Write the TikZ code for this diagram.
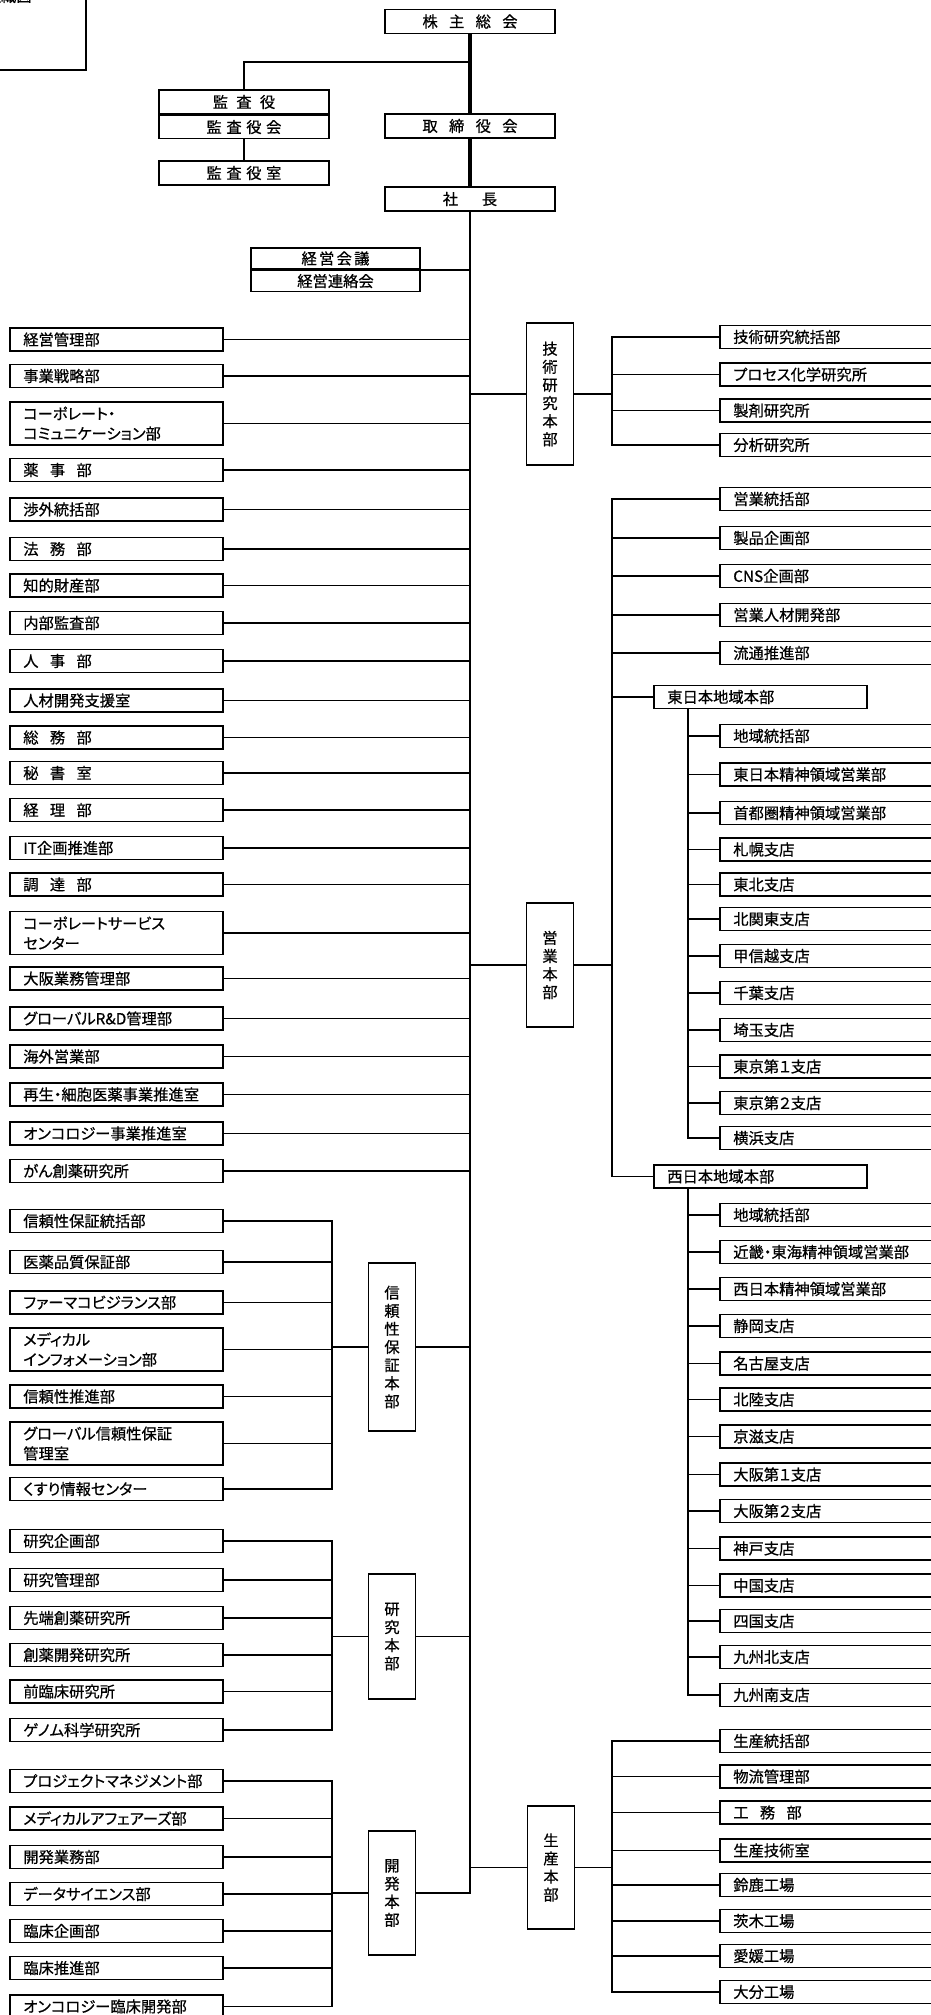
\documentclass[tikz,border=0pt]{standalone}
\usepackage{fontspec}
\setmainfont{Noto Sans CJK JP}[RawFeature={+palt;embolden=0.6}]
\newcommand{\deptgap}{\hspace{0.74em}}

\begin{document}
\begin{tikzpicture}[x=0.02cm, y=-0.02cm,
    every node/.style={font=\fontsize{8.7pt}{11.3pt}\selectfont, inner sep=0pt},
    deptbox/.style={draw, line width=0.9pt, anchor=west, text width=3.72cm, inner xsep=0.27cm, minimum height=0.46cm, align=left},
    deptboxr/.style={deptbox, text width=4.26cm},
    twoline/.style={minimum height=0.86cm},
    topbox/.style={draw, line width=0.9pt, minimum width=3.4cm, minimum height=0.48cm, align=center},
    hqbox/.style={draw, line width=0.9pt, minimum width=0.94cm, align=center, font=\fontsize{8.7pt}{10.3pt}\selectfont},
    link/.style={line width=0.9pt, line cap=rect},
    trunkline/.style={line width=2.2pt}]
\useasboundingbox (0,0) rectangle (930,2015);

% frame in the corner, cut by the page
\node[draw, line width=0.9pt, anchor=south east, minimum width=2.4cm, minimum height=2cm] (titlebox) at (87,71) {};
\node[anchor=east] (charttitle) at (32,-4) {組織図};

% top of the chart
\coordinate (trunk) at (470,0);
\node[topbox] (soukai) at (470,21.5) {株\deptgap 主\deptgap 総\deptgap 会};
\node[topbox] (torishimari) at (470,126) {取\deptgap 締\deptgap 役\deptgap 会};
\node[topbox] (shacho) at (470,199) {社\hspace{1.55em}長};
\node[topbox] (kansayaku) at (244,102) {監\hspace{0.54em}査\hspace{0.54em}役};
\node[topbox, minimum height=0.46cm, anchor=north] (kansakai) at (kansayaku.south) {監\hspace{0.3em}査\hspace{0.3em}役\hspace{0.3em}会};
\node[topbox] (kansashitsu) at (244,173) {監\hspace{0.3em}査\hspace{0.3em}役\hspace{0.3em}室};
\node[topbox, minimum width=3.38cm, minimum height=0.42cm] (keieikaigi) at (335.5,258.5) {経\hspace{0.15em}営\hspace{0.15em}会\hspace{0.15em}議};
\node[topbox, minimum width=3.38cm, minimum height=0.42cm, anchor=north] (keieiren) at (keieikaigi.south) {経営連絡会};
\coordinate (auditjoin) at (470,62);

\draw[trunkline] (soukai.south) -- (torishimari.north);
\draw[trunkline] (torishimari.south) -- (shacho.north);
\draw[link] (kansayaku.north) |- (auditjoin);
\draw[link] (kansakai.south) -- (kansashitsu.north);
\draw[link] (keieikaigi.south east) -- (keieikaigi.south east -| trunk);

% staff departments
\node[deptbox] (staff1) at (9,339.5) {経営管理部};
\node[deptbox] (staff2) at (9,376) {事業戦略部};
\node[deptbox, twoline] (staff3) at (9,423.5) {コーポレート・\\コミュニケーション部};
\node[deptbox] (staff4) at (9,470) {薬\deptgap 事\deptgap 部};
\node[deptbox] (staff5) at (9,509.5) {渉外統括部};
\node[deptbox] (staff6) at (9,549) {法\deptgap 務\deptgap 部};
\node[deptbox] (staff7) at (9,585.5) {知的財産部};
\node[deptbox] (staff8) at (9,623) {内部監査部};
\node[deptbox] (staff9) at (9,661) {人\deptgap 事\deptgap 部};
\node[deptbox] (staff10) at (9,700.5) {人材開発支援室};
\node[deptbox] (staff11) at (9,737.5) {総\deptgap 務\deptgap 部};
\node[deptbox] (staff12) at (9,773) {秘\deptgap 書\deptgap 室};
\node[deptbox] (staff13) at (9,810) {経\deptgap 理\deptgap 部};
\node[deptbox] (staff14) at (9,848) {IT企画推進部};
\node[deptbox] (staff15) at (9,884.5) {調\deptgap 達\deptgap 部};
\node[deptbox, twoline] (staff16) at (9,933) {コーポレートサービス\\センター};
\node[deptbox] (staff17) at (9,978.5) {大阪業務管理部};
\node[deptbox] (staff18) at (9,1018.5) {グローバルR\&D管理部};
\node[deptbox] (staff19) at (9,1056.5) {海外営業部};
\node[deptbox] (staff20) at (9,1094.5) {再生・細胞医薬事業推進室};
\node[deptbox] (staff21) at (9,1133.5) {オンコロジー事業推進室};
\node[deptbox] (staff22) at (9,1171) {がん創薬研究所};
\foreach \i in {1,...,22}
    \draw[link] (staff\i.east) -- (staff\i.east -| trunk);

% quality assurance
\coordinate (lbus) at (332,0);
\node[hqbox, minimum height=3.36cm] (qahq) at (392,1347) {信\\頼\\性\\保\\証\\本\\部};
\node[deptbox] (qa1) at (9,1221) {信頼性保証統括部};
\node[deptbox] (qa2) at (9,1262) {医薬品質保証部};
\node[deptbox] (qa3) at (9,1302.5) {ファーマコビジランス部};
\node[deptbox, twoline] (qa4) at (9,1349.5) {メディカル\\インフォメーション部};
\node[deptbox] (qa5) at (9,1396.5) {信頼性推進部};
\node[deptbox, twoline] (qa6) at (9,1443.5) {グローバル信頼性保証\\管理室};
\node[deptbox] (qa7) at (9,1489) {くすり情報センター};
\draw[link] (qa1.east -| lbus) -- (qa7.east -| lbus);
\foreach \i in {1,...,7}
    \draw[link] (qa\i.east) -- (qa\i.east -| lbus);
\draw[link] (qahq.west) -- (qahq.west -| lbus);
\draw[link] (qahq.east) -- (qahq.east -| trunk);

% research
\node[hqbox, minimum height=2.5cm] (reshq) at (392,1636.5) {研\\究\\本\\部};
\node[deptbox] (res1) at (9,1541) {研究企画部};
\node[deptbox] (res2) at (9,1580) {研究管理部};
\node[deptbox] (res3) at (9,1618) {先端創薬研究所};
\node[deptbox] (res4) at (9,1655) {創薬開発研究所};
\node[deptbox] (res5) at (9,1691.5) {前臨床研究所};
\node[deptbox] (res6) at (9,1730) {ゲノム科学研究所};
\draw[link] (res1.east -| lbus) -- (res6.east -| lbus);
\foreach \i in {1,...,6}
    \draw[link] (res\i.east) -- (res\i.east -| lbus);
\draw[link] (reshq.west) -- (reshq.west -| lbus);
\draw[link] (reshq.east) -- (reshq.east -| trunk);

% development
\node[hqbox, minimum height=2.48cm] (devhq) at (392,1893) {開\\発\\本\\部};
\node[deptbox] (dev1) at (9,1781) {プロジェクトマネジメント部};
\node[deptbox] (dev2) at (9,1818.5) {メディカルアフェアーズ部};
\node[deptbox] (dev3) at (9,1857) {開発業務部};
\node[deptbox] (dev4) at (9,1894) {データサイエンス部};
\node[deptbox] (dev5) at (9,1931) {臨床企画部};
\node[deptbox] (dev6) at (9,1968) {臨床推進部};
\node[deptbox] (dev7) at (9,2006.5) {オンコロジー臨床開発部};
\draw[link] (dev1.east -| lbus) -- (dev7.east -| lbus);
\foreach \i in {1,...,7}
    \draw[link] (dev\i.east) -- (dev\i.east -| lbus);
\draw[link] (devhq.west) -- (devhq.west -| lbus);
\draw[link] (devhq.east) -- (devhq.east -| trunk);

\draw[link, line width=1.4pt, line cap=butt] (shacho.south) -- (shacho.south |- devhq.east);

% technology research
\coordinate (rbus) at (612,0);
\coordinate (regbus) at (688,0);
\node[hqbox, minimum height=2.84cm] (techhq) at (550,394) {技\\術\\研\\究\\本\\部};
\node[deptboxr] (tech1) at (719,337) {技術研究統括部};
\node[deptboxr] (tech2) at (719,374.5) {プロセス化学研究所};
\node[deptboxr] (tech3) at (719,410.5) {製剤研究所};
\node[deptboxr] (tech4) at (719,445) {分析研究所};
\draw[link] (tech1.west -| rbus) -- (tech4.west -| rbus);
\foreach \i in {1,...,4}
    \draw[link] (tech\i.west) -- (tech\i.west -| rbus);
\draw[link] (techhq.west) -- (techhq.west -| trunk);
\draw[link] (techhq.east) -- (techhq.east -| rbus);

% sales
\node[hqbox, minimum height=2.48cm] (saleshq) at (550,965) {営\\業\\本\\部};
\node[deptboxr] (sales1) at (719,499) {営業統括部};
\node[deptboxr] (sales2) at (719,538) {製品企画部};
\node[deptboxr] (sales3) at (719,576) {CNS企画部};
\node[deptboxr] (sales4) at (719,615) {営業人材開発部};
\node[deptboxr] (sales5) at (719,653) {流通推進部};
\node[deptbox] (eastreg) at (653,697) {東日本地域本部};
\node[deptbox] (westreg) at (653,1176.5) {西日本地域本部};
\draw[link] (sales1.west -| rbus) -- (westreg.west -| rbus);
\foreach \i in {1,...,5}
    \draw[link] (sales\i.west) -- (sales\i.west -| rbus);
\draw[link] (eastreg.west) -- (eastreg.west -| rbus);
\draw[link] (westreg.west) -- (westreg.west -| rbus);
\draw[link] (saleshq.west) -- (saleshq.west -| trunk);
\draw[link] (saleshq.east) -- (saleshq.east -| rbus);

% east region
\node[deptboxr] (east1) at (719,736) {地域統括部};
\node[deptboxr] (east2) at (719,774.5) {東日本精神領域営業部};
\node[deptboxr] (east3) at (719,813) {首都圏精神領域営業部};
\node[deptboxr] (east4) at (719,849.5) {札幌支店};
\node[deptboxr] (east5) at (719,884.5) {東北支店};
\node[deptboxr] (east6) at (719,919) {北関東支店};
\node[deptboxr] (east7) at (719,956) {甲信越支店};
\node[deptboxr] (east8) at (719,993) {千葉支店};
\node[deptboxr] (east9) at (719,1030) {埼玉支店};
\node[deptboxr] (east10) at (719,1066.5) {東京第１支店};
\node[deptboxr] (east11) at (719,1103) {東京第２支店};
\node[deptboxr] (east12) at (719,1138) {横浜支店};
\draw[link] (eastreg.south -| regbus) -- (east12.west -| regbus);
\foreach \i in {1,...,12}
    \draw[link] (east\i.west) -- (east\i.west -| regbus);

% west region
\node[deptboxr] (west1) at (719,1215) {地域統括部};
\node[deptboxr] (west2) at (719,1252) {近畿・東海精神領域営業部};
\node[deptboxr] (west3) at (719,1289) {西日本精神領域営業部};
\node[deptboxr] (west4) at (719,1326) {静岡支店};
\node[deptboxr] (west5) at (719,1363.5) {名古屋支店};
\node[deptboxr] (west6) at (719,1399.5) {北陸支店};
\node[deptboxr] (west7) at (719,1436.5) {京滋支店};
\node[deptboxr] (west8) at (719,1474.5) {大阪第１支店};
\node[deptboxr] (west9) at (719,1511) {大阪第２支店};
\node[deptboxr] (west10) at (719,1548.5) {神戸支店};
\node[deptboxr] (west11) at (719,1585.5) {中国支店};
\node[deptboxr] (west12) at (719,1621) {四国支店};
\node[deptboxr] (west13) at (719,1657) {九州北支店};
\node[deptboxr] (west14) at (719,1695) {九州南支店};
\draw[link] (westreg.south -| regbus) -- (west14.west -| regbus);
\foreach \i in {1,...,14}
    \draw[link] (west\i.west) -- (west\i.west -| regbus);

% production
\node[hqbox, minimum height=2.46cm] (prodhq) at (551,1867.5) {生\\産\\本\\部};
\node[deptboxr] (prod1) at (719,1741) {生産統括部};
\node[deptboxr] (prod2) at (719,1776.5) {物流管理部};
\node[deptboxr] (prod3) at (719,1812.5) {工\deptgap 務\deptgap 部};
\node[deptboxr] (prod4) at (719,1850.5) {生産技術室};
\node[deptboxr] (prod5) at (719,1885) {鈴鹿工場};
\node[deptboxr] (prod6) at (719,1921) {茨木工場};
\node[deptboxr] (prod7) at (719,1956) {愛媛工場};
\node[deptboxr] (prod8) at (719,1992) {大分工場};
\draw[link] (prod1.west -| rbus) -- (prod8.west -| rbus);
\foreach \i in {1,...,8}
    \draw[link] (prod\i.west) -- (prod\i.west -| rbus);
\draw[link] (prodhq.west) -- (prodhq.west -| trunk);
\draw[link] (prodhq.east) -- (prodhq.east -| rbus);
\end{tikzpicture}
\end{document}
